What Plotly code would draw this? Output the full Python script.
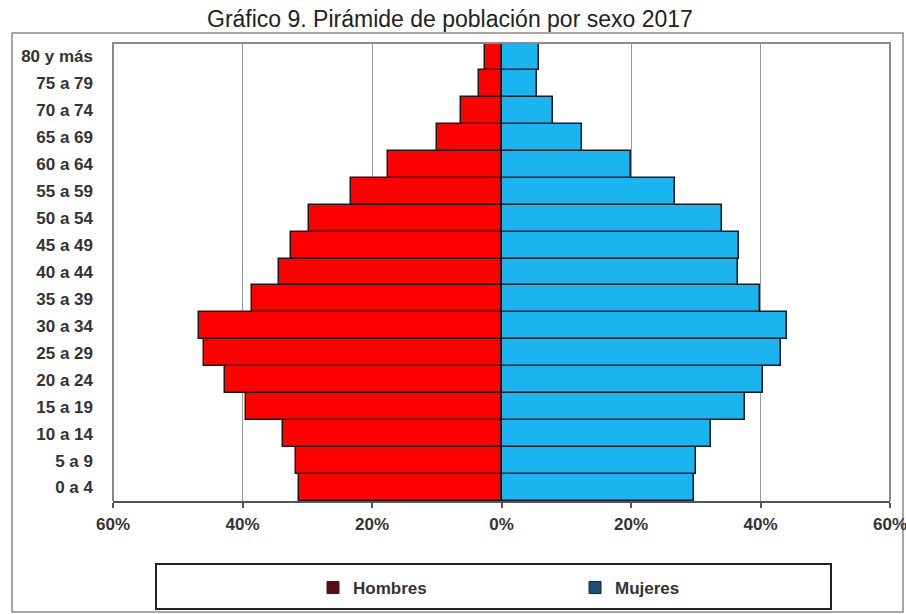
import plotly.graph_objects as go

grupos = ["0 a 4", "5 a 9", "10 a 14", "15 a 19", "20 a 24", "25 a 29", "30 a 34",
          "35 a 39", "40 a 44", "45 a 49", "50 a 54", "55 a 59", "60 a 64",
          "65 a 69", "70 a 74", "75 a 79", "80 y más"]
hombres = [31.2, 31.8, 33.7, 39.4, 42.7, 45.9, 46.7, 38.5, 34.4, 32.5, 29.8, 23.2,
           17.5, 9.9, 6.2, 3.4, 2.6]
mujeres = [29.8, 30.0, 32.3, 37.6, 40.4, 43.1, 44.1, 39.9, 36.6, 36.7, 34.1, 26.8,
           20.0, 12.5, 7.9, 5.5, 5.8]
tick_vals = [-60, -40, -20, 0, 20, 40, 60]
tick_text = ["60%", "40%", "20%", "0%", "20%", "40%", "60%"]

W, H = 906, 614
L, R, T, B = 113, 16, 43, 113
pw = W - L - R
ph = H - T - B


def px_x(x):
    return (x - L) / pw


def px_y(y):
    return (H - B - y) / ph


fig = go.Figure()
fig.add_trace(go.Bar(
    y=grupos, x=[-v for v in hombres], orientation="h", name="Hombres",
    marker=dict(color="#FF0000", line=dict(color="#1a1a1a", width=1.5)),
    showlegend=False,
))
fig.add_trace(go.Bar(
    y=grupos, x=mujeres, orientation="h", name="Mujeres",
    marker=dict(color="#1AB4F0", line=dict(color="#1a1a1a", width=1.5)),
    showlegend=False,
))
# legend swatches (the reference legend uses darker swatches)
fig.add_trace(go.Bar(
    y=[None], x=[None], orientation="h", name="Hombres",
    marker=dict(color="#5c0d18", line=dict(color="#222222", width=1)),
    showlegend=True,
))
fig.add_trace(go.Bar(
    y=[None], x=[None], orientation="h", name="Mujeres",
    marker=dict(color="#1f4f78", line=dict(color="#222222", width=1)),
    showlegend=True,
))

lab_font = dict(size=17, color="#333333", family="Liberation Sans, Arial, sans-serif",
                weight="bold")

fig.update_layout(
    width=W, height=H,
    margin=dict(l=L, r=R, t=T, b=B, autoexpand=False),
    barmode="relative", bargap=0,
    paper_bgcolor="white", plot_bgcolor="white",
    font=dict(family="Liberation Sans, Arial, sans-serif", color="#333333"),
    title=dict(text="Gráfico 9. Pirámide de población por sexo 2017",
               xref="container", x=207 / W, xanchor="left",
               yref="container", y=1 - 19 / H, yanchor="middle",
               font=dict(size=23, color="#222222")),
    xaxis=dict(range=[-60, 60], tickvals=tick_vals, ticktext=tick_text,
               showgrid=True, gridcolor="#9a9a9a", gridwidth=1, zeroline=False,
               showline=True, linecolor="#555555", linewidth=2, mirror=False,
               ticks="outside", ticklen=5, tickcolor="#555555", tickwidth=1.5,
               tickfont=lab_font, ticklabelstandoff=2, automargin=False,
               ticklabeloverflow="allow", fixedrange=True),
    yaxis=dict(categoryorder="array", categoryarray=grupos,
               showgrid=False, zeroline=False, ticks="", showline=False,
               tickfont=lab_font, automargin=False,
               ticklabelstandoff=19, fixedrange=True),
    showlegend=True,
    legend=dict(orientation="h", x=px_x(313), xanchor="left",
                y=px_y(588), yanchor="middle",
                bgcolor="rgba(0,0,0,0)", borderwidth=0,
                entrywidth=217, entrywidthmode="pixels",
                font=dict(size=17, color="#333333", weight="bold"),
                traceorder="normal"),
    shapes=[
        # outer frame
        dict(type="rect", xref="paper", yref="paper",
             x0=px_x(12), x1=px_x(903), y0=px_y(612), y1=px_y(33),
             line=dict(color="#8a8a8a", width=1.5), fillcolor="rgba(0,0,0,0)",
             layer="below"),
        # plot border (left, top, right)
        dict(type="path", xref="paper", yref="paper",
             path="M 0 0 L 0 1 L 1 1 L 1 0",
             line=dict(color="#8a8a8a", width=2), layer="above"),
        # legend box
        dict(type="rect", xref="paper", yref="paper",
             x0=px_x(156), x1=px_x(831), y0=px_y(609), y1=px_y(564),
             line=dict(color="#222222", width=2), fillcolor="rgba(0,0,0,0)"),
    ],
)

fig.write_html("out.html", config={"displayModeBar": False},
               post_script="document.body.style.margin='0';")
